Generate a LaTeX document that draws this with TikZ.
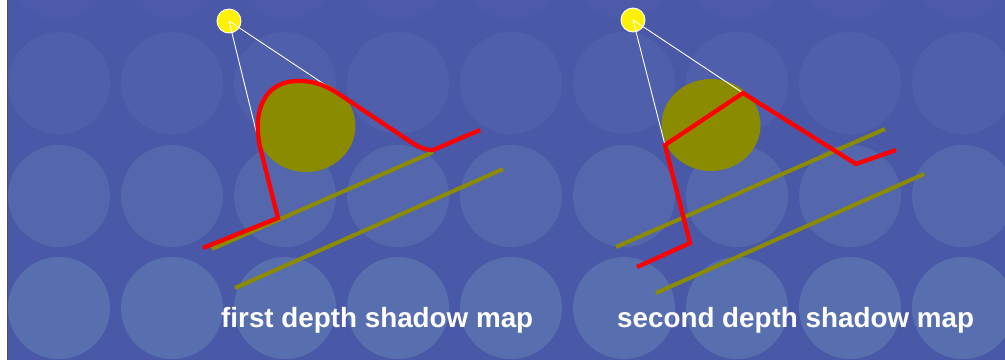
\documentclass[tikz,border=0pt]{standalone}
\usepackage{fontspec}
\newfontfamily\labfont{Liberation Sans}
\definecolor{bgblue}{HTML}{4A58A8}
\definecolor{rowA}{HTML}{4C5AA9}
\definecolor{rowB}{HTML}{4F5FAB}
\definecolor{rowC}{HTML}{5467AD}
\definecolor{rowD}{HTML}{586FAF}
\definecolor{olive}{HTML}{8B8B00}
\definecolor{edgegray}{HTML}{505050}
\tikzset{
  blob/.style={fill=olive, draw=none},
  ground/.style={draw=olive, line width=4pt},
  shadowline/.style={draw=red, line width=4.3pt, line join=miter},
  ray/.style={draw=white, line width=0.9pt},
  lamp/.style={circle, fill=yellow, draw=white, line width=0.9pt, minimum size=24pt, inner sep=0pt},
  caption/.style={font=\labfont\bfseries\fontsize{27.8}{30}\selectfont, text=white, anchor=base west, inner sep=0pt}
}
\begin{document}
\begin{tikzpicture}[x=1pt,y=-1pt]
\useasboundingbox (0,0) rectangle (1005,360);
\fill[white] (0,0) rectangle (1005,360);
\fill[bgblue] (7.5,0) rectangle (1005,360);
\draw[edgegray, line width=1pt] (7.5,0) -- (7.5,360);
\begin{scope}
\clip (8,0) rectangle (1005,360);
\foreach \r/\yy in {rowA/-31, rowB/83, rowC/196, rowD/308} {
  \foreach \i in {0,...,8} {
    \fill[\r] ({59+113*\i},\yy) circle (51);
  }
}
\end{scope}

% ---------- scene 1 ----------
\fill[blob] (306,126) ellipse (49.5 and 46);
\coordinate (g1a) at (212,249);
\coordinate (g1b) at (433,152);
\coordinate (g2a) at (235,288);
\coordinate (g2b) at (503,169);
\draw[ground] (g1a) -- (g1b);
\draw[ground] (g2a) -- (g2b);
\node[lamp] (L1) at (229,21) {};
\coordinate (t1a) at (260,147);
\coordinate (t1b) at (339,94);
\draw[ray] (L1.center) -- (t1a);
\draw[ray] (L1.center) -- (t1b);
\coordinate (s1a) at (203,248);
\coordinate (s1b) at (278,218);
\coordinate (s1e) at (433,150);
\coordinate (s1f) at (480,130);
\draw[shadowline] (s1a) -- (s1b) -- (t1a)
  .. controls (252,108) and (266,80) .. (300,81)
  .. controls (316,81) and (328,87) .. (339,94)
  -- (408,140) .. controls (418,147) and (425,150) .. (s1e) -- (s1f);

% ---------- scene 2 ----------
\fill[blob] (711,125) ellipse (49.5 and 46);
\coordinate (h1a) at (616,247);
\coordinate (h1b) at (885,129);
\coordinate (h2a) at (656,293);
\coordinate (h2b) at (924,174);
\draw[ground] (h1a) -- (h1b);
\draw[ground] (h2a) -- (h2b);
\node[lamp] (L2) at (633,20) {};
\coordinate (t2a) at (665,145);
\coordinate (t2b) at (743,93);
\draw[ray] (L2.center) -- (t2a);
\draw[ray] (L2.center) -- (t2b);
\coordinate (s2a) at (637,267);
\coordinate (s2b) at (690,243);
\coordinate (s2e) at (856,164);
\coordinate (s2f) at (896,150);
\draw[shadowline] (s2a) -- (s2b) -- (t2a) -- (t2b) -- (s2e) -- (s2f);

% ---------- captions ----------
\node[caption] (cap1) at (221,327) {first depth shadow map};
\node[caption] (cap2) at (617,327) {second depth shadow map};
\end{tikzpicture}
\end{document}
